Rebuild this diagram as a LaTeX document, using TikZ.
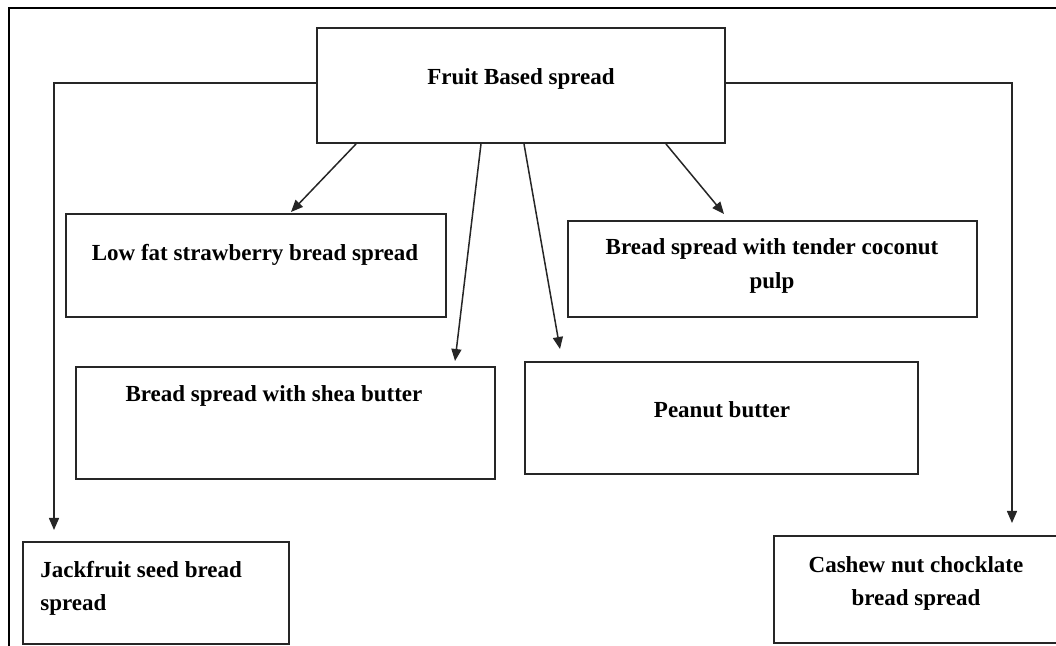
\documentclass[tikz,border=0pt]{standalone}
\usepackage{fontspec}
\setmainfont{Liberation Serif}
\usetikzlibrary{arrows.meta}
\begin{document}
\begin{tikzpicture}[x=0.5pt,y=-0.5pt,
  box/.style={draw=black!85,line width=1pt,inner sep=0pt},
  lbl/.style={inner sep=0pt,font=\bfseries\fontsize{11.5}{17}\selectfont,align=center,anchor=base},
  arr/.style={draw=black!85,line width=0.75pt,-{Triangle[length=6pt,width=5pt]}},
  frame/.style={draw=black,line width=0.9pt}]
\useasboundingbox (0,0) rectangle (1056,646);
\clip (0,0) rectangle (1056,646);
% outer frame
\coordinate (fbl) at (9,650);
\coordinate (ftl) at (9,8);
\coordinate (ftr) at (1060,8);
\draw[frame] (fbl) -- (ftl) -- (ftr);
% boxes
\node[box,minimum width=204pt,minimum height=57.5pt] (top) at (521,85.5) {};
\node[box,minimum width=190pt,minimum height=51.5pt] (low) at (256,265.5) {};
\node[box,minimum width=204.5pt,minimum height=48pt] (coco) at (772.5,269) {};
\node[box,minimum width=209.5pt,minimum height=56pt] (shea) at (285.5,423) {};
\node[box,minimum width=196.5pt,minimum height=56pt] (pea) at (721.5,418) {};
\node[box,minimum width=133pt,minimum height=51pt] (jack) at (156,593) {};
\node[box,minimum width=144pt,minimum height=53.5pt] (cash) at (918,589.5) {};
% labels (multi-line labels are placed at the baseline of their last line)
\node[lbl] (ttop) at (521,85) {Fruit Based spread};
\node[lbl] (tlow) at (255,261) {Low fat strawberry bread spread};
\node[lbl] (tcoco) at (772,289) {Bread spread with tender coconut\\pulp};
\node[lbl] (tshea) at (274,402) {Bread spread with shea butter};
\node[lbl] (tpea) at (722,418) {Peanut butter};
\node[lbl,align=left,anchor=base west] (tjack) at (40,611) {Jackfruit seed bread\\spread};
\node[lbl] (tcash) at (916,606) {Cashew nut chocklate\\bread spread};
% side connectors
\coordinate (jacktip) at (54,530);
\coordinate (cashtip) at (1012,523);
\draw[arr] ([yshift=1.2pt]top.west) -| (jacktip);
\draw[arr] ([yshift=1.2pt]top.east) -| (cashtip);
% diagonal arrows
\draw[arr] ([xshift=20pt]top.south west) -- ([xshift=113pt,yshift=0.5pt]low.north west);
\draw[arr] ([xshift=82.5pt]top.south west) -- ([xshift=190pt,yshift=2.5pt]shea.north west);
\draw[arr] ([xshift=104pt]top.south west) -- ([xshift=18pt,yshift=6pt]pea.north west);
\draw[arr] ([xshift=175pt]top.south west) -- ([xshift=78.5pt,yshift=3pt]coco.north west);
\end{tikzpicture}
\end{document}
